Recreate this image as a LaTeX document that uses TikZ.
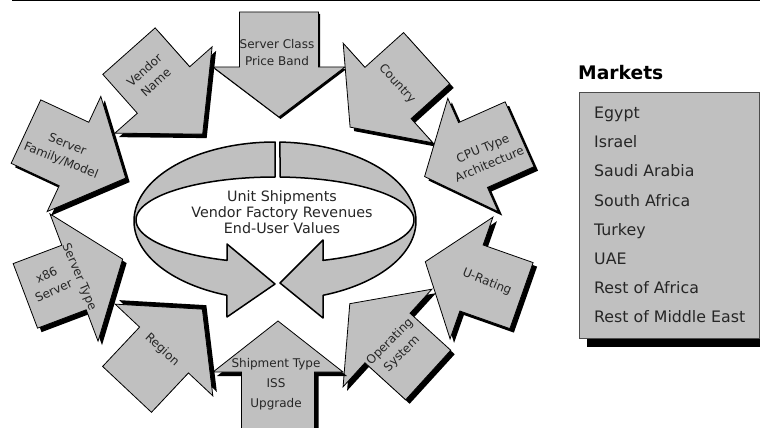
\documentclass[tikz,border=0pt]{standalone}
\usepackage{fontspec}
\setmainfont{DejaVu Sans}
\definecolor{silv}{RGB}{192,192,192}
\tikzset{
  arrowbody/.style={fill=silv, draw=black, line width=0.8pt, line join=miter},
  shadowfill/.style={fill=black},
  lbl/.style={font=\fontsize{12}{17}\selectfont, text=black!85, align=center, inner sep=0pt},
  ctext/.style={font=\fontsize{14.3}{16}\selectfont, text=black!85, align=center, inner sep=0pt},
  mkt/.style={font=\fontsize{15.8}{18}\selectfont, text=black!85, anchor=base west, inner sep=0pt},
  mkthead/.style={font=\fontsize{18.7}{20}\selectfont\bfseries, text=black, anchor=base west, inner sep=0pt},
  ringpart/.style={fill=silv, draw=black, line width=1.5pt, line join=round}
}
% #1 mx, #2 my, #3 angle, #4 body width, #5 body length, #6 head width, #7 head length, #8 shadow dx, #9 shadow dy
\newcommand\blkarrow[9]{%
  \begin{scope}[shift={(#1+#8,#2+#9)},rotate=#3]
    \fill[shadowfill] (#7,0) -- (0,#6/2) -- (0,#4/2) -- (-#5,#4/2) -- (-#5,-#4/2) -- (0,-#4/2) -- (0,-#6/2) -- cycle;
  \end{scope}
  \begin{scope}[shift={(#1,#2)},rotate=#3]
    \filldraw[arrowbody] (#7,0) -- (0,#6/2) -- (0,#4/2) -- (-#5,#4/2) -- (-#5,-#4/2) -- (0,-#4/2) -- (0,-#6/2) -- cycle;
  \end{scope}}
\begin{document}
\begin{tikzpicture}[x=1pt,y=-1pt]
\clip (0,0) rectangle (760,428);
\fill[white] (0,0) rectangle (760,428);
% top rule
\draw[line width=1.5pt] (12,0.75) -- (760,0.75);

% block arrows around the ring
\blkarrow{279}{67}{-90}{79}{55}{132}{50}{1.5}{2}
\blkarrow{388}{93}{-138}{69}{52}{134}{51}{4}{4}
\blkarrow{473}{155}{-156}{71}{51}{124}{53}{4}{4}
\blkarrow{471.5}{278}{160.6}{70}{53}{129}{49}{4}{4}
\blkarrow{387.5}{338}{137.7}{67}{55}{132}{51}{4}{4}
\blkarrow{278}{372}{90}{73}{58}{130}{51}{4}{4}
\blkarrow{164}{350}{46.8}{67}{54}{134}{56}{4}{-4}
\blkarrow{74}{277.5}{20.7}{69}{52}{136}{52}{4}{4}
\blkarrow{74}{154}{-25}{70}{53}{127}{57}{4}{4}
\blkarrow{163.5}{90}{-48.4}{70}{52}{130}{59}{4}{4}

% arrow labels
\node[lbl] (sclass) at (277,53) {Server Class\\Price Band};
\node[lbl, rotate=-48] (country) at (397,84) {Country};
\node[lbl, rotate=23] (cpu) at (486,156) {CPU Type\\Architecture};
\node[lbl, rotate=-22] (urating) at (487,282) {U-Rating};
\node[lbl, rotate=45] (opsys) at (396,348) {Operating\\System};
\node[lbl, font=\fontsize{12}{19.7}\selectfont] (ship) at (276,384) {Shipment Type\\ISS\\Upgrade};
\node[lbl, rotate=-42] (region) at (162,350) {Region};
\node[lbl, rotate=25] (x86) at (50,283) {x86\\Server};
\node[lbl, rotate=-67] (stype) at (79,277) {Server Type};
\node[lbl, rotate=-22] (family) at (64,153) {Server\\Family/Model};
\node[lbl, rotate=42] (vendor) at (150,76) {Vendor\\Name};

% central ring: left piece
\filldraw[ringpart]
  plot[domain=270:110, samples=90] ({275+141*cos(\x)},{221+79*sin(\x)})
  -- (227,317) -- (275,284) -- (227,244)
  -- plot[domain=110.2:270, samples=90] ({275+139*cos(\x)},{220+43*sin(\x)})
  -- cycle;
% central ring: right piece
\filldraw[ringpart]
  plot[domain=272:430, samples=90] ({275+141*cos(\x)},{221+79*sin(\x)})
  -- (323,318) -- (280,283) -- (323,240)
  -- plot[domain=429.8:272.1, samples=90] ({275+139*cos(\x)},{220+43*sin(\x)})
  -- cycle;
\node[ctext] (center) at (282,212) {Unit Shipments\\Vendor Factory Revenues\\End-User Values};

% Markets legend
\node[mkthead] (mhead) at (578,79) {Markets};
\fill[black] (587,100) rectangle (768,347);
\filldraw[fill=silv, draw=black!70, line width=0.8pt] (579,92) rectangle (759,338);
\node[mkt] (m1) at (594,118) {Egypt};
\node[mkt] (m2) at (594,147.3) {Israel};
\node[mkt] (m3) at (594,176.6) {Saudi Arabia};
\node[mkt] (m4) at (594,206) {South Africa};
\node[mkt] (m5) at (594,235.2) {Turkey};
\node[mkt] (m6) at (594,264.4) {UAE};
\node[mkt] (m7) at (594,293.6) {Rest of Africa};
\node[mkt] (m8) at (594,322.8) {Rest of Middle East};
\end{tikzpicture}
\end{document}
